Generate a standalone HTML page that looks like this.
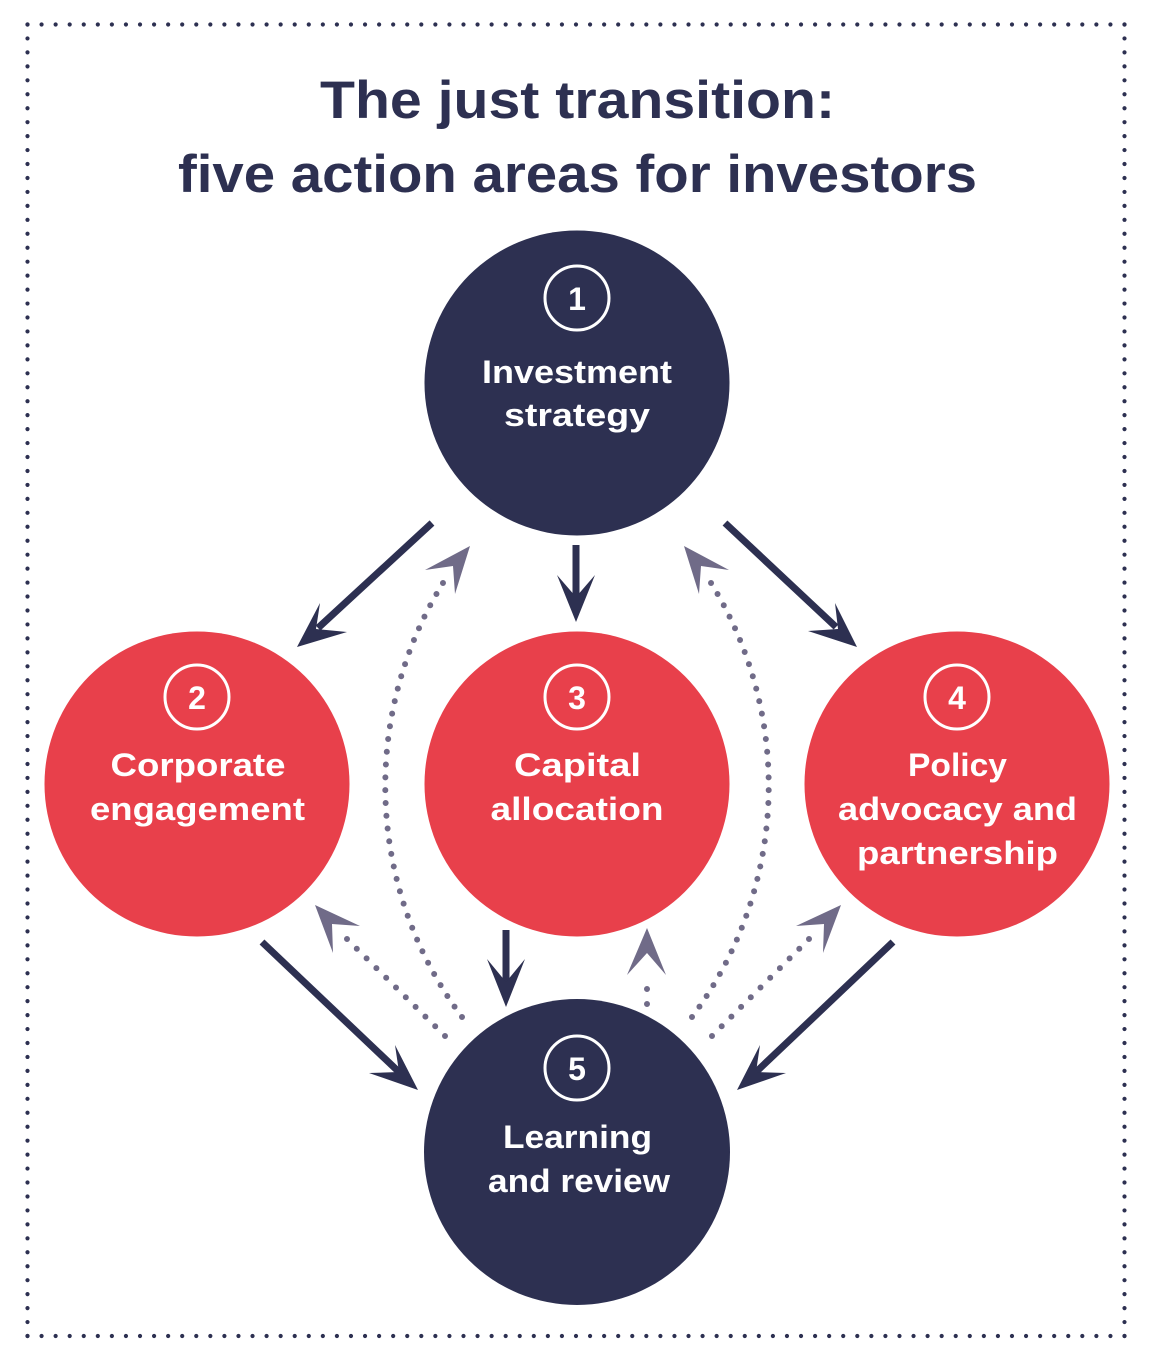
<!DOCTYPE html>
<html>
<head>
<meta charset="utf-8">
<style>
html,body{margin:0;padding:0;background:#fff;}
svg{display:block;}
text{font-family:"Liberation Sans",Arial,sans-serif;font-weight:bold;}
</style>
</head>
<body>
<svg width="1153" height="1364" viewBox="0 0 1153 1364" xmlns="http://www.w3.org/2000/svg">
  <!-- dotted border -->
  <g stroke="#2d3051" stroke-width="4.2" stroke-linecap="round" stroke-dasharray="0 1" fill="none">
    <line x1="27.5" y1="24.5" x2="1124.5" y2="24.5" pathLength="78"/>
    <line x1="27.5" y1="1336" x2="1124.5" y2="1336" pathLength="78"/>
    <line x1="27.5" y1="24.5" x2="27.5" y2="1336" pathLength="94"/>
    <line x1="1124.5" y1="24.5" x2="1124.5" y2="1336" pathLength="94"/>
  </g>

  <!-- title -->
  <g fill="#2d3051" font-size="53" text-anchor="middle">
    <text x="577.5" y="118" textLength="515" lengthAdjust="spacingAndGlyphs">The just transition:</text>
    <text x="577.5" y="192" textLength="799" lengthAdjust="spacingAndGlyphs">five action areas for investors</text>
  </g>

  <!-- circles -->
  <circle cx="577" cy="383" r="152.5" fill="#2d3051"/>
  <circle cx="197" cy="784" r="152.5" fill="#e8404b"/>
  <circle cx="577" cy="784" r="152.5" fill="#e8404b"/>
  <circle cx="957" cy="784" r="152.5" fill="#e8404b"/>
  <circle cx="577" cy="1152" r="153" fill="#2d3051"/>

  <!-- number rings -->
  <g fill="none" stroke="#fff" stroke-width="3">
    <circle cx="577" cy="298" r="32"/>
    <circle cx="197" cy="697" r="32"/>
    <circle cx="577" cy="697" r="32"/>
    <circle cx="957" cy="697" r="32"/>
    <circle cx="577" cy="1068" r="32"/>
  </g>
  <g fill="#fff" font-size="32" text-anchor="middle">
    <text x="577" y="310">1</text>
    <text x="197" y="709">2</text>
    <text x="577" y="709">3</text>
    <text x="957" y="709">4</text>
    <text x="577" y="1080">5</text>
  </g>

  <!-- labels -->
  <g fill="#fff" font-size="32" text-anchor="middle">
    <text x="577" y="383" textLength="190" lengthAdjust="spacingAndGlyphs">Investment</text>
    <text x="577" y="426" textLength="146" lengthAdjust="spacingAndGlyphs">strategy</text>

    <text x="198" y="776" textLength="175" lengthAdjust="spacingAndGlyphs">Corporate</text>
    <text x="197.5" y="820" textLength="215" lengthAdjust="spacingAndGlyphs">engagement</text>

    <text x="577.5" y="776" textLength="127" lengthAdjust="spacingAndGlyphs">Capital</text>
    <text x="577" y="820" textLength="173" lengthAdjust="spacingAndGlyphs">allocation</text>

    <text x="957.5" y="776" textLength="99" lengthAdjust="spacingAndGlyphs">Policy</text>
    <text x="957.5" y="820" textLength="239" lengthAdjust="spacingAndGlyphs">advocacy and</text>
    <text x="957.5" y="864" textLength="201" lengthAdjust="spacingAndGlyphs">partnership</text>

    <text x="577.5" y="1148" textLength="149" lengthAdjust="spacingAndGlyphs">Learning</text>
    <text x="579" y="1192" textLength="182" lengthAdjust="spacingAndGlyphs">and review</text>
  </g>

  <!-- solid arrows -->
  <g stroke="#2d3051" stroke-width="7" fill="none">
    <line x1="432" y1="523" x2="318" y2="628"/>
    <line x1="576" y1="545" x2="576" y2="600"/>
    <line x1="725" y1="523" x2="836" y2="627"/>
    <line x1="262" y1="942" x2="400" y2="1073"/>
    <line x1="506" y1="930" x2="506" y2="985"/>
    <line x1="893" y1="942" x2="755" y2="1073"/>
  </g>
  <g fill="#2d3051">
    <polygon points="297,647 320,603 316,629 347,632"/>
    <polygon points="576,622 557,575 576,597 595,575"/>
    <polygon points="857,647 835,603 838,629 808,631"/>
    <polygon points="418,1090 395,1045 399,1072 369,1073"/>
    <polygon points="506,1007 487,959 506,982 525,959"/>
    <polygon points="737,1090 760,1045 756,1072 786,1073"/>
  </g>

  <!-- dotted arrows -->
  <g stroke="#706b88" stroke-width="6" stroke-linecap="round" stroke-dasharray="0 1" fill="none">
    <path d="M 462 1017 A 386 386 0 0 1 443 583" pathLength="36"/>
    <path d="M 692 1017 A 386 386 0 0 0 711 583" pathLength="36"/>
    <line x1="445" y1="1036" x2="347" y2="939" pathLength="10"/>
    <line x1="712" y1="1036" x2="809" y2="939" pathLength="10"/>
    <line x1="647" y1="1004" x2="647" y2="974" pathLength="2"/>
  </g>
  <g fill="#706b88">
    <polygon points="470,546 425,570 453,566 455,594"/>
    <polygon points="684,546 729,570 701,566 699,594"/>
    <polygon points="315,905 360,926 332,924 333,953"/>
    <polygon points="841,905 796,926 824,924 823,953"/>
    <polygon points="647,928 627,975 647,953 666,975"/>
  </g>
</svg>
</body>
</html>
